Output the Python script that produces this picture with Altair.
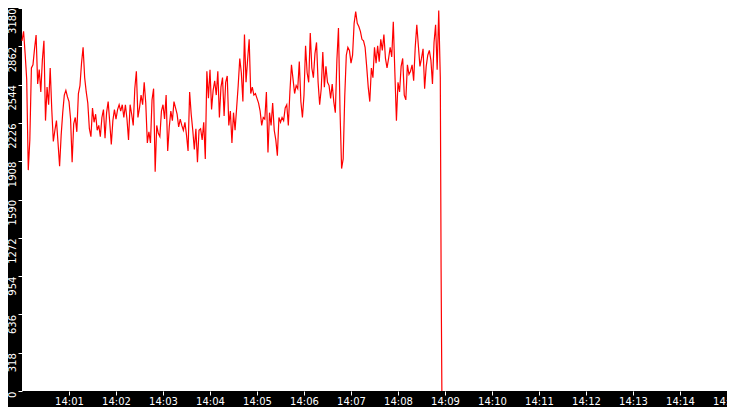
import altair as alt
import pandas as pd

# sampled values every 2 s starting 14:00:00
main_values = [
    2907, 2987, 2800, 2589, 1834, 2085, 2682, 2708, 2841, 2955,
    2549, 2668, 2483, 2748, 2907, 2245, 2523, 2377, 2682, 2337,
    2072, 2165, 2245, 2059, 1866, 2125, 2311, 2457, 2496, 2443,
    2403, 2258, 1900, 2218, 2271, 2152, 2470, 2536, 2722, 2854,
    2602, 2483, 2390, 2178, 2112, 2350, 2231, 2298, 2165, 2205,
    2112, 2271, 2337, 2099, 2311, 2403, 2231, 2046, 2245, 2337,
    2258, 2337, 2377, 2324, 2377, 2271, 2377, 2258, 2085,
    2377, 2298, 2205, 2510, 2655, 2271, 2350, 2457, 2377, 2563,
    2390, 2059, 2152, 2059, 2417, 2510, 1820, 2205, 2139, 2112,
    2324, 2377, 2258, 2457, 1993, 2192, 2324, 2245, 2403, 2350,
    2298, 2192, 2258, 2205, 2165, 2231, 2125, 1993, 2483, 2298,
    2165, 2006, 2178, 1900, 2165, 2178, 2085, 2231, 1927, 2655,
    2430, 2668, 2337, 2496, 2576, 2457, 2655, 2271, 2523, 2602,
    2284, 2563, 2616, 2205, 2324, 2059,
    2311, 2165, 2350, 2536, 2761, 2642, 2403, 2960, 2563, 2748,
    2920, 2470, 2523, 2457, 2470, 2430, 2390, 2324, 2205, 2271,
    2258, 2483, 1980, 2311, 2205, 2390, 2165, 2085, 1953, 2271,
    2231, 2271, 2245, 2350, 2377, 2205, 2483, 2708, 2589, 2470,
    2536, 2510, 2735, 2403, 2271, 2457, 2867, 2642, 2563, 2973,
    2682, 2602, 2801, 2894, 2563, 2377, 2510, 2814, 2523, 2695,
    2563, 2536, 2430, 2549, 2403, 2311,
    2748, 3013, 2324, 1847, 1927, 2443, 2788, 2854, 2828, 2722,
    2788, 3053, 3150, 3053, 3026, 2986, 2920, 2907, 2854, 2695,
    2523, 2403, 2682, 2602, 2854, 2722, 2867, 2735, 2920, 2828,
    2960, 2761, 2682, 2761, 2854, 2774, 3066, 2642, 2245, 2563,
    2483, 2695, 2761, 2457, 2417, 2708, 2629, 2655, 2708, 2576,
    2854, 3040, 2867, 2695, 2761, 2841, 2510, 2695, 2788, 2828,
    2748, 2549, 2894, 3040, 2668, 3159, 2602,
]
tail_seconds = [535, 536]
tail_values = [1025, 0]

y_ticks = [0, 318, 636, 954, 1272, 1590, 1908, 2226, 2544, 2862, 3180]
x_tick_seconds = [60 * m for m in range(1, 16)]

seconds = [2 * i for i in range(len(main_values))] + tail_seconds
values = main_values + tail_values
df = pd.DataFrame({"t": seconds, "v": values})

label_expr = "'14:' + (datum.value < 600 ? '0' : '') + floor(datum.value / 60)"

chart = alt.Chart(df).mark_line(color="#ff0000", strokeWidth=1.2).encode(
    x=alt.X("t:Q", scale=alt.Scale(domain=[0, 900], nice=False, zero=False),
            axis=alt.Axis(values=x_tick_seconds, labelExpr=label_expr,
                          labelColor="white", tickColor="white", tickSize=4,
                          labelPadding=1, domain=False, grid=False,
                          labelFlush=False, labelOverlap=False,
                          labelFont="DejaVu Sans", labelFontSize=10, title=None)),
    y=alt.Y("v:Q", scale=alt.Scale(domain=[0, 3180], nice=False),
            axis=alt.Axis(values=y_ticks, format="d", labelAngle=270,
                          labelAlign="right", labelBaseline="bottom",
                          labelColor="white", tickColor="white", tickSize=4,
                          labelPadding=1, domain=False, grid=False,
                          labelFlush=False, labelOverlap=False,
                          labelFont="DejaVu Sans", labelFontSize=10, title=None)),
).properties(
    width=705,
    height=383,
    background="black",
    padding={"left": 14, "top": 0, "right": 0, "bottom": 16},
    autosize=alt.AutoSizeParams(type="none"),
).configure_view(fill="white", stroke="white", strokeWidth=0, strokeOpacity=0)

chart.save("out.html", embed_options={"renderer": "svg", "actions": False})
